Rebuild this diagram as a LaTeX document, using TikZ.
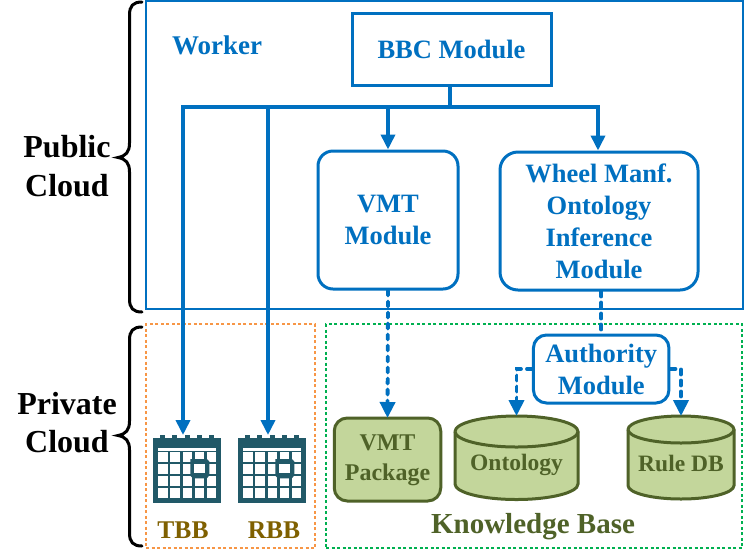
\documentclass[tikz,border=0pt]{standalone}
\usepackage{fontspec}
\setmainfont{Liberation Serif}
\usetikzlibrary{arrows.meta,calc}
\definecolor{cblue}{HTML}{0070C0}
\definecolor{colive}{HTML}{4F6228}
\definecolor{cfill}{HTML}{C3D69B}
\definecolor{cteal}{HTML}{215968}
\definecolor{cbrown}{HTML}{7F6000}
\definecolor{corange}{HTML}{F79646}
\definecolor{cgreen}{HTML}{00B050}
\tikzset{
  txt/.style={font=\bfseries\fontsize{#1}{#1}\selectfont,align=center,inner sep=0pt},
  bluebox/.style={draw=cblue,line width=3pt,fill=white,rounded corners=#1,inner sep=0pt,text=cblue,align=center,font=\bfseries\fontsize{26.5}{32}\selectfont},
  solidarrow/.style={cblue,line width=3.6pt,-{Triangle[length=15pt,width=14pt]}},
  solidline/.style={cblue,line width=3.6pt},
  dashline/.style={cblue,line width=3.8pt,dash pattern=on 5pt off 6pt,line cap=round},
  dasharrow/.style={dashline,-{Triangle[length=16pt,width=15pt]}},
  region/.style={line width=2pt,dash pattern=on 3pt off 2.5pt,inner sep=0pt},
  greenshape/.style={draw=colive,fill=cfill,line width=3pt},
  brace/.style={black,line width=3pt,line cap=round},
  anchorbox/.style={inner sep=0pt,outer sep=0pt}
}
\newcommand{\calicon}[2]{%
  \begin{scope}[shift={(#1,#2)}]
    \fill[cteal] (0,3) rectangle (68,68);
    \foreach \tx in {9.5,21.5,34,46.5,58.5}{\fill[cteal] (\tx-2.5,0) rectangle (\tx+2.5,12);}
    \fill[white] (5,13) rectangle (63,15.6);
    \foreach \cx in {0,1,2,3,4}{\foreach \cy in {0,1,2,3}{%
      \fill[white] ({5+\cx*12.15},{17.3+\cy*12.05}) rectangle ++(9.4,9.3);}}
    \fill[cteal] (37,24) -- (53.5,24) -- (56,26.5) -- (56,40.5) -- (53.5,43.3) -- (39.5,43.3) -- (37,40.5) -- (37,26.5) -- cycle;
    \fill[white] (41,29.3) rectangle (51.8,38.3);
  \end{scope}}
\begin{document}
\begin{tikzpicture}[x=1pt,y=-1pt]
\useasboundingbox (0,0) rectangle (744,558);
\fill[white] (0,0) rectangle (744,558);

% regions
\node[draw=cblue,line width=2.4pt,anchorbox,minimum width=597pt,minimum height=308pt] (worker) at (444.5,155) {};
\node[draw=corange,region,minimum width=169pt,minimum height=224pt] (priv1) at (230.5,436) {};
\node[draw=cgreen,region,minimum width=416pt,minimum height=224pt] (priv2) at (534,436) {};

% braces
\draw[brace] (142,2) .. controls (133,2) and (129.5,6) .. (129.5,15) -- (129.5,143) .. controls (129.5,152) and (126,156) .. (118,157.5) .. controls (126,159) and (129.5,163) .. (129.5,172) -- (129.5,299) .. controls (129.5,308) and (133,312) .. (142,312);
\draw[brace] (142,327) .. controls (133,327) and (129.5,331) .. (129.5,340) -- (129.5,421) .. controls (129.5,430) and (126,434) .. (118,435.5) .. controls (126,437) and (129.5,441) .. (129.5,450) -- (129.5,533) .. controls (129.5,542) and (133,546) .. (142,546);

% labels
\node[font=\bfseries\fontsize{32}{39}\selectfont,align=center,inner sep=0pt,text=black] (pub) at (67,166) {Public\\Cloud};
\node[font=\bfseries\fontsize{32}{38}\selectfont,align=center,inner sep=0pt,text=black] (pri) at (67,423) {Private\\Cloud};
\node[txt=27,text=cblue] (wlab) at (217,45.5) {Worker};
\node[txt=25.5,text=cbrown] (tbblab) at (183,530) {TBB};
\node[txt=25.5,text=cbrown] (rbblab) at (274,530) {RBB};
\node[txt=29,text=colive] (kblab) at (533,527) {Knowledge Base};

% calendars
\calicon{153.3}{435}
\calicon{238.3}{435}
\node[anchorbox,minimum width=68pt,minimum height=68pt] (tbb) at (187.3,469) {};
\node[anchorbox,minimum width=68pt,minimum height=68pt] (rbb) at (272.3,469) {};

% boxes
\node[bluebox=0pt,minimum width=199pt,minimum height=72pt] (bbc) at (451.5,49) {BBC Module};
\node[bluebox=15pt,minimum width=140pt,minimum height=138pt] (vmt) at (388,220) {VMT\\Module};
\node[bluebox=18pt,minimum width=198pt,minimum height=138pt] (wheel) at (599,221) {Wheel Manf.\\Ontology\\Inference\\Module};
\node[bluebox=13pt,minimum width=135.5pt,minimum height=68pt] (auth) at (601.2,369) {Authority\\Module};

% green shapes
\node[greenshape,rounded corners=13pt,minimum width=106.5pt,minimum height=83pt,anchorbox] (pkg) at (387.5,459.5) {};
\node[font=\bfseries\fontsize{24}{30}\selectfont,align=center,inner sep=0pt,text=colive] (pkglab) at (387.5,460.5) {VMT\\Package};
\draw[greenshape] (455,431.5) arc[start angle=180,end angle=0,x radius=61.5pt,y radius=15.5pt] -- (578,484) arc[start angle=360,end angle=180,x radius=61.5pt,y radius=15.5pt] -- cycle;
\draw[greenshape] (455,431.5) arc[start angle=180,end angle=360,x radius=61.5pt,y radius=15.5pt];
\node[anchorbox,minimum width=123pt,minimum height=83pt] (ont) at (516.5,457.5) {};
\node[txt=23.5,text=colive] (ontlab) at (516.5,465) {Ontology};
\draw[greenshape] (628,429.5) arc[start angle=180,end angle=0,x radius=53pt,y radius=13.5pt] -- (734,485.5) arc[start angle=360,end angle=180,x radius=53pt,y radius=13.5pt] -- cycle;
\draw[greenshape] (628,429.5) arc[start angle=180,end angle=360,x radius=53pt,y radius=13.5pt];
\node[anchorbox,minimum width=106pt,minimum height=83pt] (rdb) at (681,457.5) {};
\node[txt=23.5,text=colive] (rdblab) at (681,463) {Rule DB};

% connectors
\coordinate (bus) at (450,107);
\coordinate (busl) at (183,107);
\coordinate (busm) at (268,107);
\coordinate (busr) at (598,107);
\draw[solidline] (bbc.south -| bus) -- (bus);
\draw[solidline,line cap=rect] (busl) -- (busr);
\draw[solidarrow] (busl) -- (busl |- tbb.north);
\draw[solidarrow] (busm) -- (busm |- rbb.north);
\draw[solidarrow] (vmt.north |- bus) -- (vmt.north);
\draw[solidarrow] (busr) -- (busr |- wheel.north);
\draw[dasharrow] (vmt.south) -- (pkg.north);
\draw[dashline] (wheel.south -| auth.north) -- (auth.north);
\draw[dasharrow] (auth.west) -| (ont.north);
\draw[dasharrow] (auth.east) -| (rdb.north);
\end{tikzpicture}
\end{document}
